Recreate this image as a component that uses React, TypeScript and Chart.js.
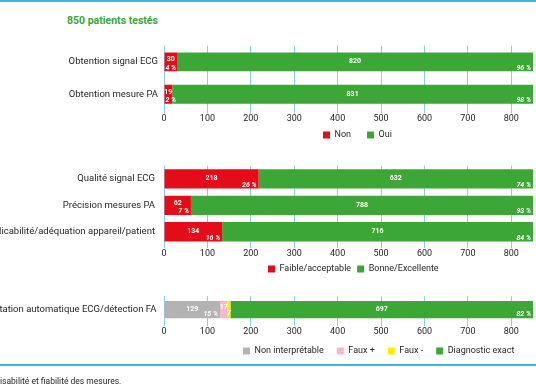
import React, { useEffect, useRef } from 'react';
import { Chart, registerables } from 'chart.js';

Chart.register(...registerables);

// ---------- data ----------
const AXIS_MAX = 850;
const TICK_STEP = 100;

const chart1Categories = ['Obtention signal ECG', 'Obtention mesure PA'];
const chart1Non = [30, 19];
const chart1Oui = [820, 831];
const chart1NonPct = ['4 %', '2 %'];
const chart1OuiPct = ['96 %', '98 %'];

const chart2Categories = ['Qualité signal ECG', 'Précision mesures PA', 'Applicabilité/adéquation appareil/patient'];
const chart2Faible = [218, 62, 134];
const chart2Bonne = [632, 788, 716];
const chart2FaiblePct = ['26 %', '7 %', '16 %'];
const chart2BonnePct = ['74 %', '93 %', '84 %'];

const chart3Categories = ['Interprétation automatique ECG/détection FA'];
const chart3NonInterp = [129];
const chart3FauxPlus = [17];
const chart3FauxMoins = [7];
const chart3Exact = [697];
const chart3NonInterpPct = ['15 %'];
const chart3ExactPct = ['82 %'];

const titleText = '850 patients testés';
const captionText = 'isabilité et fiabilité des mesures.';

// ---------- styles ----------
const RED = '#e30c18';
const GREEN = '#3ca636';
const GRAY = '#b3b3b3';
const PINK = '#f5b6cf';
const YELLOW = '#ffec00';
const GRID = '#8ccde8';
const LINE_BLUE = '#3db5e3';
const TEXT = '#262626';
const FONT = 'Roboto';

const W = 536;
const TICK_FONT = 9;
const TICK_LEN = 3;
const CAT_FONT = 9.5;
const LEG_FONT = 9;
const LEG_BOX = 7;

const legendPlacer = {
  id: 'legendPlacer',
  afterLayout(chart: any, _args: any, opts: any) {
    const lg = chart.legend;
    if (!lg || opts == null || opts.x == null) return;
    const p = lg.options.labels.padding;
    const w = lg.width;
    const h = lg.height;
    const itemH = Math.max(LEG_FONT, LEG_BOX);
    lg.left = opts.x - p;
    lg.right = lg.left + w;
    lg.top = opts.y - p - itemH / 2;
    lg.bottom = lg.top + h;
  },
};

const barLabels = {
  id: 'barLabels',
  afterDatasetsDraw(chart: any) {
    const ctx = chart.ctx;
    const narrowCount: Record<number, number> = {};
    chart.data.datasets.forEach((ds: any, di: number) => {
      const meta = chart.getDatasetMeta(di);
      meta.data.forEach((el: any, i: number) => {
        const { x, y, base, height } = el.getProps(['x', 'y', 'base', 'height'], true);
        const left = Math.min(x, base);
        const right = Math.max(x, base);
        const w = right - left;
        const pct = ds.pctLabels ? ds.pctLabels[i] : null;
        ctx.save();
        ctx.fillStyle = '#ffffff';
        ctx.textBaseline = 'middle';
        ctx.textAlign = 'center';
        ctx.font = `bold 7px ${FONT}`;
        const txt = String(ds.data[i]);
        const tw = ctx.measureText(txt).width;
        let vy = y - 0.5;
        if (pct && w < 40) vy = y - 2.5;
        if (!pct && tw + 2 > w) {
          const n = narrowCount[i] || 0;
          vy = n === 0 ? y - 2.5 : y + 3.5;
          narrowCount[i] = n + 1;
        }
        ctx.fillText(txt, (left + right) / 2, vy);
        if (pct) {
          ctx.font = `italic bold 7px ${FONT}`;
          const pw = ctx.measureText(pct).width;
          const rx = Math.max(right - 2, left + 1 + pw);
          ctx.textAlign = 'right';
          ctx.fillText(pct, rx, y + height / 2 - 3.5);
        }
        ctx.restore();
      });
    });
  },
};

type Spec = {
  categories: string[];
  datasets: { label: string; data: number[]; color: string; pct?: (string | null)[] }[];
  areaTop: number;
  areaBottom: number;
  barPct: number;
  labelPad: number;
  legendX: number;
  legendY: number;
  legendPad: number;
};

const specs: Spec[] = [
  {
    categories: chart1Categories,
    datasets: [
      { label: 'Non', data: chart1Non, color: RED, pct: chart1NonPct },
      { label: 'Oui', data: chart1Oui, color: GREEN, pct: chart1OuiPct },
    ],
    areaTop: 38.5,
    areaBottom: 110.5,
    barPct: 21 / 36,
    labelPad: 6,
    legendX: 323,
    legendY: 135,
    legendPad: 16,
  },
  {
    categories: chart2Categories,
    datasets: [
      { label: 'Faible/acceptable', data: chart2Faible, color: RED, pct: chart2FaiblePct },
      { label: 'Bonne/Excellente', data: chart2Bonne, color: GREEN, pct: chart2BonnePct },
    ],
    areaTop: 155,
    areaBottom: 245,
    barPct: 22 / 30,
    labelPad: 9,
    legendX: 268,
    legendY: 269,
    legendPad: 6,
  },
  {
    categories: chart3Categories,
    datasets: [
      { label: 'Non interprétable', data: chart3NonInterp, color: GRAY, pct: chart3NonInterpPct },
      { label: 'Faux +', data: chart3FauxPlus, color: PINK },
      { label: 'Faux -', data: chart3FauxMoins, color: YELLOW },
      { label: 'Diagnostic exact', data: chart3Exact, color: GREEN, pct: chart3ExactPct },
    ],
    areaTop: 287,
    areaBottom: 323,
    barPct: 23 / 36,
    labelPad: 7.5,
    legendX: 243,
    legendY: 351,
    legendPad: 13,
  },
];

function StackedBar({ spec }: { spec: Spec }) {
  const ref = useRef<HTMLCanvasElement>(null);
  const canvasTop = Math.floor(spec.areaTop) - 4;
  const padTop = spec.areaTop - canvasTop;
  const axisH = TICK_LEN + TICK_FONT * 1.2;
  const legendH = Math.max(LEG_FONT, LEG_BOX) + spec.legendPad + 10;
  const needed = spec.areaBottom - canvasTop + axisH + legendH;
  const height = Math.ceil(Math.max(needed, spec.legendY + 10 - canvasTop));
  const padBottom = height - needed;

  useEffect(() => {
    const chart = new Chart(ref.current as HTMLCanvasElement, {
      type: 'bar',
      data: {
        labels: spec.categories,
        datasets: spec.datasets.map((d) => ({
          label: d.label,
          data: d.data,
          backgroundColor: d.color,
          borderWidth: 0,
          categoryPercentage: 1,
          barPercentage: spec.barPct,
          pctLabels: d.pct,
        })) as any,
      },
      options: {
        indexAxis: 'y',
        responsive: false,
        animation: false,
        events: [],
        layout: { padding: { top: padTop, bottom: padBottom, left: 0, right: 3 } },
        scales: {
          x: {
            stacked: true,
            min: 0,
            max: AXIS_MAX,
            grid: { color: GRID, lineWidth: 1, drawTicks: true, tickLength: TICK_LEN },
            border: { display: false },
            ticks: {
              stepSize: TICK_STEP,
              includeBounds: false,
              padding: 0,
              color: TEXT,
              font: { family: FONT, size: TICK_FONT },
            },
          },
          y: {
            stacked: true,
            grid: { display: false, drawTicks: false },
            border: { display: false },
            ticks: {
              padding: spec.labelPad,
              color: TEXT,
              font: { family: FONT, size: CAT_FONT },
            },
            afterFit: (scale: any) => {
              scale.width = 164;
            },
          },
        },
        plugins: {
          tooltip: { enabled: false },
          legend: {
            position: 'bottom',
            align: 'start',
            labels: {
              boxWidth: LEG_BOX,
              boxHeight: LEG_BOX,
              padding: spec.legendPad,
              color: TEXT,
              font: { family: FONT, size: LEG_FONT },
            },
          },
          legendPlacer: { x: spec.legendX, y: spec.legendY - canvasTop },
        } as any,
      },
      plugins: [legendPlacer, barLabels],
    });
    return () => chart.destroy();
  }, []);

  return (
    <canvas
      ref={ref}
      width={W}
      height={height}
      style={{ position: 'absolute', left: 0, top: canvasTop, width: W, height }}
    />
  );
}

export default function App() {
  return (
    <div
      style={{
        position: 'fixed',
        left: 0,
        top: 0,
        width: W,
        height: 386,
        overflow: 'hidden',
        background: '#ffffff',
        fontFamily: FONT,
      }}
    >
      <div style={{ position: 'absolute', left: 0, top: 0, width: W, height: 2, background: LINE_BLUE }} />
      <div
        style={{
          position: 'absolute',
          left: 67,
          top: 14,
          fontSize: 10.5,
          lineHeight: '13px',
          fontWeight: 700,
          color: GREEN,
          whiteSpace: 'nowrap',
        }}
      >
        {titleText}
      </div>
      {specs.map((s, i) => (
        <StackedBar key={i} spec={s} />
      ))}
      <div style={{ position: 'absolute', left: 0, top: 364, width: W, height: 2, background: LINE_BLUE }} />
      <div
        style={{
          position: 'absolute',
          left: 0,
          top: 376,
          fontSize: 8.5,
          lineHeight: '11px',
          color: TEXT,
          whiteSpace: 'nowrap',
        }}
      >
        {captionText}
      </div>
    </div>
  );
}
